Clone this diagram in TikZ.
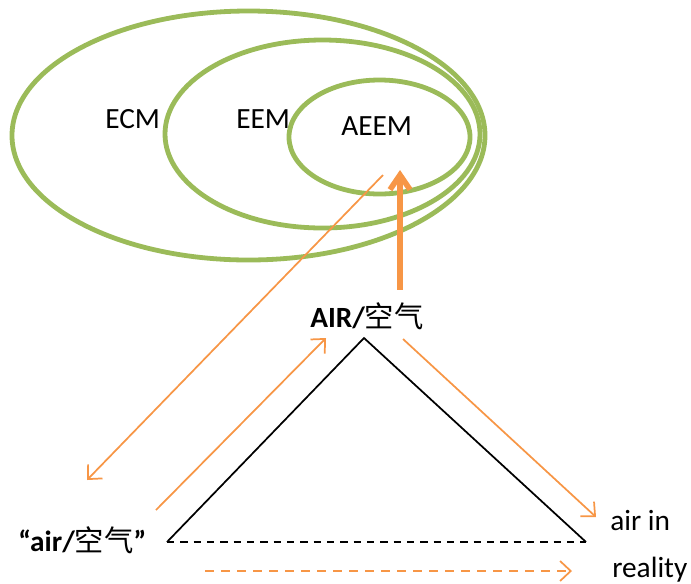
\documentclass[tikz,border=0pt]{standalone}
\usepackage{fontspec}
\setmainfont{Carlito}
\newfontfamily\cjk{Noto Sans CJK SC}
\usetikzlibrary{positioning, arrows.meta, calc}
\definecolor{ringGreen}{HTML}{9BBB59}
\definecolor{arrOrange}{HTML}{F79646}

\begin{document}
\begin{tikzpicture}[x=0.75pt, y=-0.75pt,
  ring/.style={draw=ringGreen, line width=3.6pt},
  lbl/.style={font=\fontsize{22}{26}\selectfont, inner sep=0pt, anchor=base west},
  term/.style={font=\fontsize{22}{26}\selectfont\bfseries, inner sep=0pt, anchor=base west},
  side/.style={draw=black, line width=1.3pt},
  oarr/.style={draw=arrOrange, line width=1.3pt, -{Straight Barb[length=8pt, width=15pt]}},
  bigarr/.style={draw=arrOrange, line width=4.2pt, -{Straight Barb[length=11pt, width=15pt]}}]
\useasboundingbox (0,0) rectangle (691,583);
% nested models
\draw[ring] (248.5,135.5) ellipse [x radius=236.5, y radius=124.5];
\draw[ring] (322.5,134) ellipse [x radius=157.5, y radius=94];
\draw[ring] (379.5,137) ellipse [x radius=90.5, y radius=57];
\node[lbl] (ecm) at (105,128) {ECM};
\node[lbl] (eem) at (236,128) {EEM};
\node[lbl] (aeem) at (341,135) {AEEM};
% semiotic triangle
\coordinate (apex) at (364,338);
\coordinate (lb) at (167,542);
\coordinate (rb) at (586,542);
\draw[side] (lb) -- (apex) -- (rb);
\draw[side, dash pattern=on 5.5pt off 4.5pt] (lb) -- (rb);
\node[term] (concept) at (310,327) {AIR/{\cjk\mdseries 空气}};
\node[term] (word) at (18,551) {“air/{\cjk\mdseries 空气}”};
\node[lbl] (airin) at (610,530) {air in};
\node[lbl] (reality) at (612,577) {reality};
% arrow ends
\coordinate (aeemtip) at (400,170);
\coordinate (aeemfoot) at (383,175);
\coordinate (wordtop) at (87,480);
\coordinate (wordright) at (156,510);
\coordinate (apexleft) at (326,338);
\coordinate (apexright) at (403,339);
\coordinate (realtip) at (596,517);
\coordinate (basefrom) at (205,571);
\coordinate (baseto) at (572,571);
\draw[bigarr] (concept.north -| aeemtip) ++(0,-12) -- (aeemtip);
\draw[oarr] (aeemfoot) -- (wordtop);
\draw[oarr] (wordright) -- (apexleft);
\draw[oarr] (apexright) -- (realtip);
\draw[oarr, dash pattern=on 7pt off 5pt] (basefrom) -- (baseto);
\end{tikzpicture}
\end{document}
